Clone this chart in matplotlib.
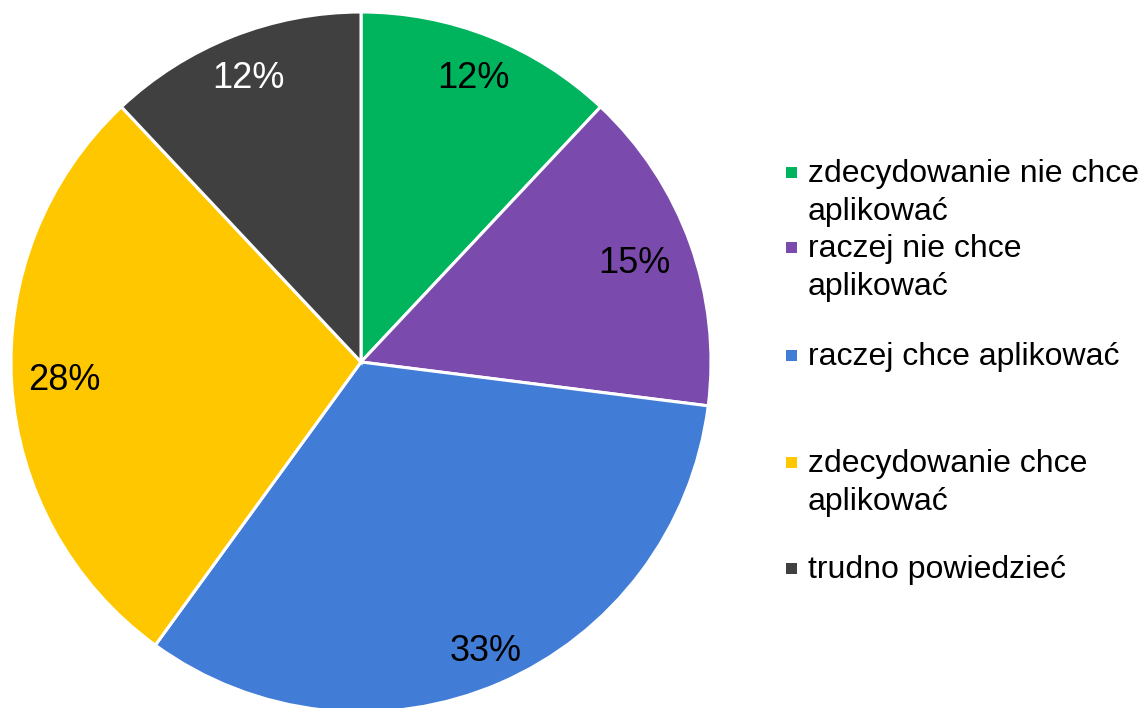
import matplotlib.pyplot as plt
import numpy as np

# Data
labels = ["zdecydowanie nie chce\naplikować", "raczej nie chce\naplikować",
          "raczej chce aplikować", "zdecydowanie chce\naplikować", "trudno powiedzieć"]
values = [12, 15, 33, 28, 12]
colors = ["#00B45E", "#7A4BAD", "#417DD6", "#FFC700", "#404040"]
label_colors = ["black", "black", "black", "black", "white"]

# Layout (pixels)
W, H = 1140, 708
cx, cy, R = 361, 362, 350
label_dist = [0.87, 0.83, 0.90, 0.85, 0.87]
legend_y = [172, 247, 355, 462, 568]

plt.rcParams["font.family"] = ["Liberation Sans", "DejaVu Sans"]

fig = plt.figure(figsize=(W / 100, H / 100), dpi=100)
ax = fig.add_axes([(cx - R) / W, (H - cy - R) / H, 2 * R / W, 2 * R / H])

wedges, texts, autotexts = ax.pie(
    values, colors=colors, startangle=90, counterclock=False,
    autopct="%1.0f%%", pctdistance=0.87,
    wedgeprops=dict(edgecolor="white", linewidth=2.2),
    textprops=dict(fontsize=26),
)
ax.set_xlim(-1, 1)
ax.set_ylim(-1, 1)
ax.axis("off")

for w, t, d, c in zip(wedges, autotexts, label_dist, label_colors):
    ang = np.deg2rad((w.theta1 + w.theta2) / 2)
    t.set_position((d * np.cos(ang), d * np.sin(ang)))
    t.set_color(c)

# Legend drawn by hand to keep the uneven spacing
for lab, col, y in zip(labels, colors, legend_y):
    fig.patches.append(plt.Rectangle((786 / W, 1 - (y + 6) / H), 11 / W, 11 / H,
                                     transform=fig.transFigure, facecolor=col,
                                     edgecolor="none"))
    fig.text(808 / W, 1 - (y - 13) / H, lab, fontsize=23, va="top", ha="left",
             linespacing=1.34)

fig.savefig("out.png", dpi=100)
